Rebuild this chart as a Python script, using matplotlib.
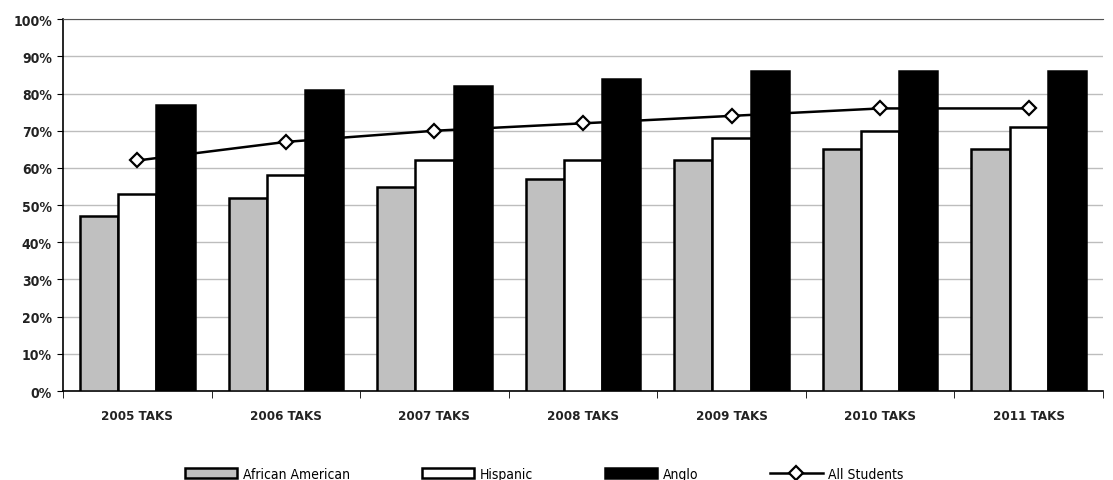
import numpy as np
import matplotlib.pyplot as plt
from matplotlib.ticker import FixedLocator, PercentFormatter

plt.rcParams['font.family'] = ['DejaVu Sans']
plt.rcParams['font.stretch'] = 'condensed'

years = ['2005 TAKS', '2006 TAKS', '2007 TAKS', '2008 TAKS', '2009 TAKS', '2010 TAKS', '2011 TAKS']
african_american = [47, 52, 55, 57, 62, 65, 65]
hispanic = [53, 58, 62, 62, 68, 70, 71]
anglo = [77, 81, 82, 84, 86, 86, 86]
all_students = [62, 67, 70, 72, 74, 76, 76]

fig = plt.figure(figsize=(11.13, 4.81), dpi=100)
ax = fig.add_axes([0.0566, 0.185, 0.9344, 0.773])

x = np.arange(len(years))
w = 0.257
b1 = ax.bar(x - w, african_american, w, color='#c0c0c0', edgecolor='black', lw=1.8, label='African American', zorder=3)
b2 = ax.bar(x, hispanic, w, color='white', edgecolor='black', lw=1.8, label='Hispanic', zorder=3)
b3 = ax.bar(x + w, anglo, w, color='black', edgecolor='black', lw=1.8, label='Anglo', zorder=3)
ln, = ax.plot(x, all_students, color='black', lw=1.8, marker='D', ms=7, mfc='white', mec='black', mew=1.6,
              label='All Students', zorder=4)

ax.set_xlim(-0.5, len(years) - 0.5)
ax.set_ylim(0, 100)
ax.set_yticks(np.arange(0, 101, 10))
ax.yaxis.set_major_formatter(PercentFormatter(decimals=0))
ax.grid(axis='y', color='#bdbdbd', lw=1, zorder=0)

ax.set_xticks(x)
ax.set_xticklabels(years)
ax.xaxis.set_minor_locator(FixedLocator(np.arange(-0.5, len(years), 1)))
ax.tick_params(axis='x', which='major', length=0, pad=13)
ax.tick_params(axis='x', which='minor', length=5, color='black')
ax.tick_params(axis='y', length=4, pad=4)
for lab in ax.get_yticklabels():
    lab.set_fontsize(10)
    lab.set_fontweight('bold')
    lab.set_color('#222222')
for lab in ax.get_xticklabels():
    lab.set_fontsize(9.5)
    lab.set_fontweight('bold')
    lab.set_color('#222222')

ax.spines['right'].set_visible(False)
ax.spines['top'].set_color('#555555')
ax.spines['left'].set_linewidth(1.2)
ax.spines['bottom'].set_linewidth(1.2)

fig.legend([b1, b2, b3, ln], ['African American', 'Hispanic', 'Anglo', 'All Students'],
           loc='lower center', bbox_to_anchor=(0.489, -0.028), ncol=4, frameon=False,
           columnspacing=5.2, handlelength=3.75, handletextpad=0.4,
           prop={'size': 10, 'stretch': 'condensed'})

fig.savefig('out.png', dpi=100)
